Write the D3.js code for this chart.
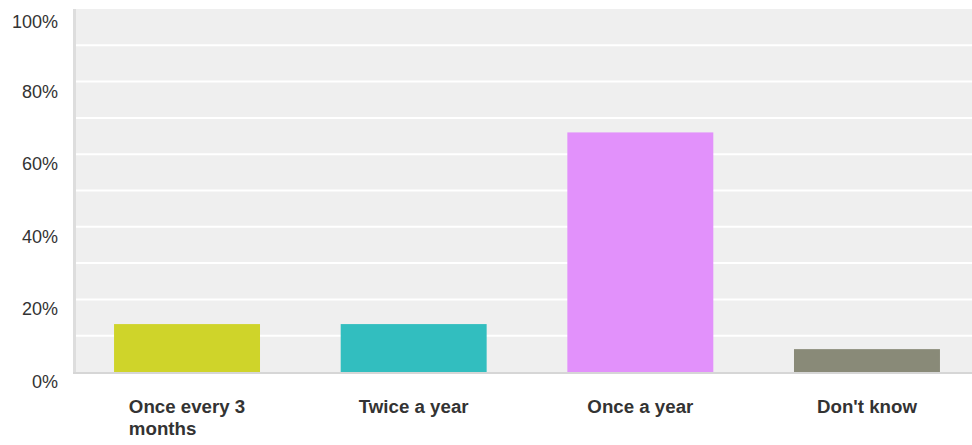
<!DOCTYPE html>
<html>
<head>
<meta charset="utf-8">
<script src="https://cdn.jsdelivr.net/npm/d3@7"></script>
<style>
  html, body { margin: 0; padding: 0; background: #fff; }
  svg { display: block; }
</style>
</head>
<body>
<svg id="chart" width="972" height="445"></svg>
<script>
// ---- data ----
const categories = ["Once every 3 months", "Twice a year", "Once a year", "Don't know"];
const values = [13.2, 13.2, 66.0, 6.3];
const colors = ["#cfd42a", "#32bebf", "#e291fb", "#898a78"];
const tickValues = [0, 20, 40, 60, 80, 100];
const gridValues = [10, 20, 30, 40, 50, 60, 70, 80, 90];

// ---- layout ----
const W = 972, H = 445;
const plotLeft = 76, plotRight = 981, plotTop = 9, plotBottom = 372;

const svg = d3.select("#chart");

const x = d3.scaleBand()
  .domain(categories)
  .range([73.7, 980.3])
  .paddingInner(0.356)
  .paddingOuter(0.178);

const y = d3.scaleLinear().domain([0, 100]).range([plotBottom, plotTop]);

// background
svg.append("rect")
  .attr("x", plotLeft).attr("y", y(100))
  .attr("width", plotRight - plotLeft).attr("height", y(0) - y(100))
  .attr("fill", "#efefef");

// gridlines
svg.append("g").selectAll("line").data(gridValues).join("line")
  .attr("x1", plotLeft).attr("x2", plotRight)
  .attr("y1", d => y(d)).attr("y2", d => y(d))
  .attr("stroke", "#ffffff").attr("stroke-width", 2);

// bars
svg.append("g").selectAll("rect").data(categories).join("rect")
  .attr("x", d => x(d))
  .attr("width", x.bandwidth())
  .attr("y", (d, i) => y(values[i]))
  .attr("height", (d, i) => y(0) - y(values[i]))
  .attr("fill", (d, i) => colors[i]);

// left axis bar
svg.append("rect")
  .attr("x", 73).attr("y", y(100))
  .attr("width", 3).attr("height", y(0) - y(100) + 2)
  .attr("fill", "#dddddd");

// bottom axis line
svg.append("rect")
  .attr("x", 73).attr("y", y(0))
  .attr("width", W - 73).attr("height", 2)
  .attr("fill", "#d6d6d6");

// y tick labels via d3 axis
const yAxis = d3.axisLeft(y)
  .tickValues(tickValues)
  .tickFormat(d => d + "%")
  .tickSize(0)
  .tickPadding(0);

const yg = svg.append("g")
  .attr("transform", "translate(58,0)")
  .call(yAxis);
yg.select(".domain").remove();
yg.selectAll("text")
  .attr("font-family", "Liberation Sans, Arial, Helvetica, sans-serif")
  .attr("font-size", 18)
  .attr("fill", "#333333")
  .attr("dy", (d) => d === 100 ? "1.0em" : "0.86em");

// x labels with wrapping
const xAxis = d3.axisBottom(x).tickSize(0).tickPadding(0);
const xg = svg.append("g")
  .attr("transform", `translate(0,${plotBottom})`)
  .call(xAxis);
xg.select(".domain").remove();
xg.selectAll("text")
  .attr("font-family", "Liberation Sans, Arial, Helvetica, sans-serif")
  .attr("font-size", 18.7)
  .attr("font-weight", "bold")
  .attr("fill", "#333333")
  .attr("y", 41)
  .attr("dy", 0)
  .each(function(d) {
    const t = d3.select(this);
    const maxW = x.bandwidth();
    const words = d.split(/\s+/);
    t.text(null);
    const lines = [];
    let line = [];
    let probe = t.append("tspan");
    words.forEach(w => {
      line.push(w);
      probe.text(line.join(" "));
      if (probe.node().getComputedTextLength() > maxW && line.length > 1) {
        line.pop();
        lines.push(line.join(" "));
        line = [w];
      }
    });
    lines.push(line.join(" "));
    probe.remove();
    // measure widest line to left-align block centered
    let widths = lines.map(l => {
      const s = t.append("tspan").text(l);
      const w = s.node().getComputedTextLength();
      s.remove();
      return w;
    });
    const blockW = d3.max(widths);
    t.attr("text-anchor", "start");
    lines.forEach((l, i) => {
      t.append("tspan")
        .attr("x", -blockW / 2)
        .attr("dy", i === 0 ? 0 : 22)
        .text(l);
    });
  });
</script>
</body>
</html>
